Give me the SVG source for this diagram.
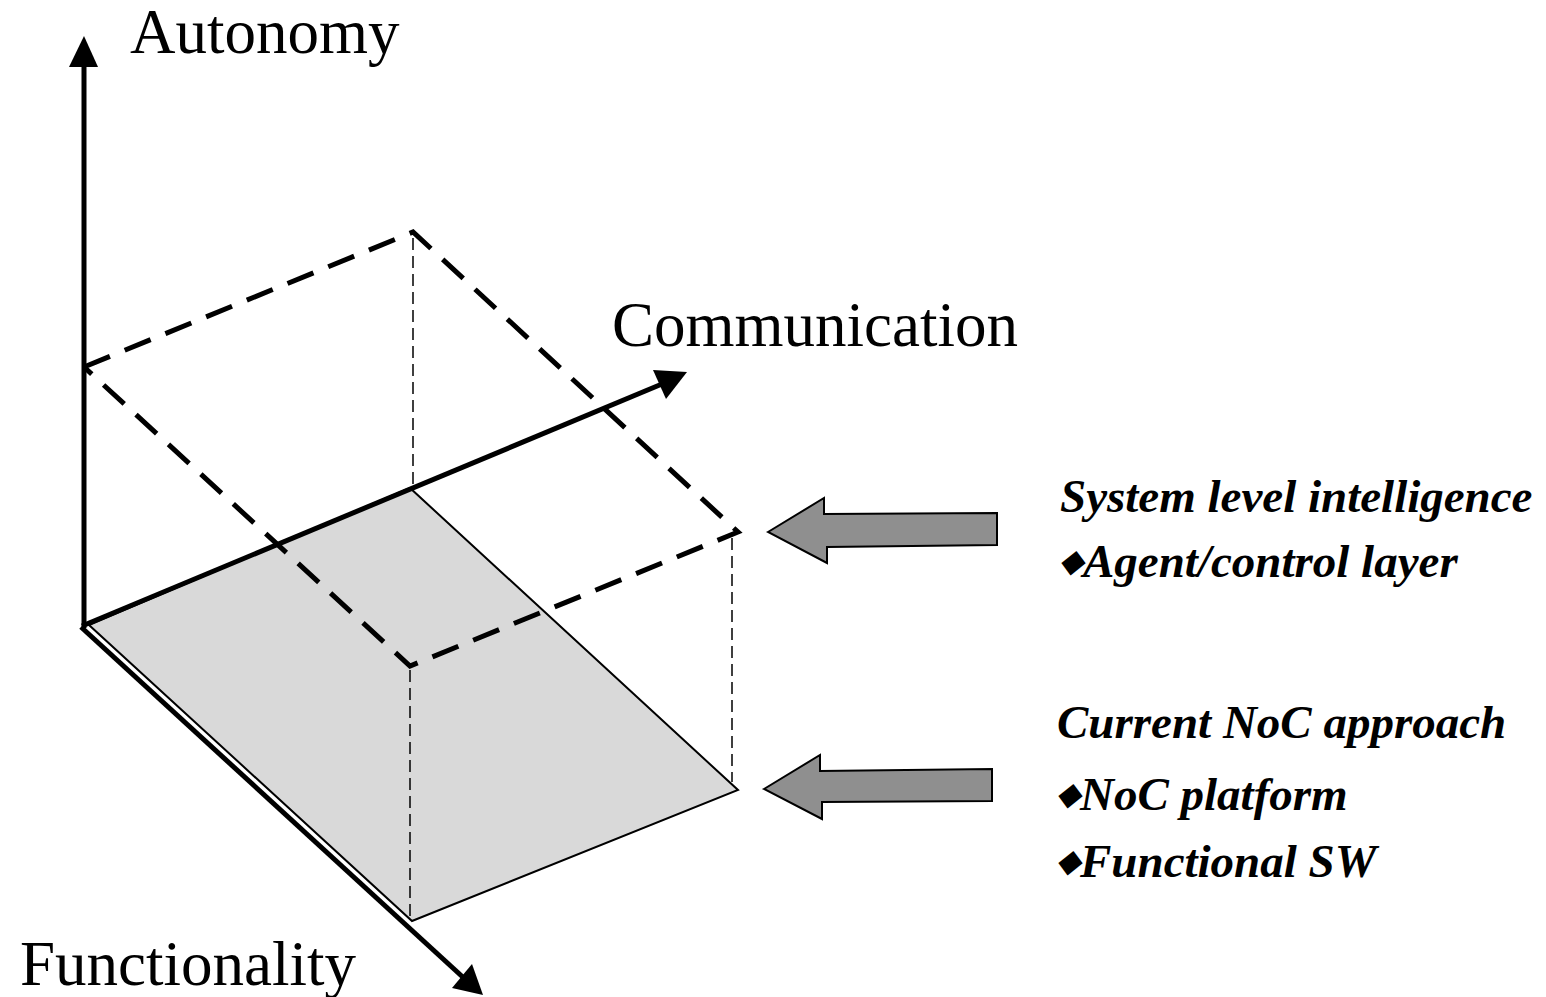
<svg xmlns="http://www.w3.org/2000/svg" width="1546" height="997" viewBox="0 0 1546 997">
<style>
.axis{stroke:#000;stroke-width:5;fill:none}
.dash{stroke:#000;stroke-width:5;fill:none;stroke-dasharray:28 16}
.thin{stroke:#000;stroke-width:1.5;fill:none;stroke-dasharray:12 6}
.lbl{font-family:"Liberation Serif","Times New Roman",serif;font-size:63px;fill:#000}
.side{font-family:"Liberation Serif","Times New Roman",serif;font-size:47px;font-weight:bold;font-style:italic;fill:#000}
.garrow{fill:#8f8f8f;stroke:#000;stroke-width:2}
</style>
<rect width="1546" height="997" fill="#fff"/>
<g id="plane">
<polygon points="89,625 410,488 738,790 412,921" fill="#d9d9d9" stroke="#000" stroke-width="2"/>
</g>
<g id="connectors">
<line class="thin" x1="413" y1="238" x2="413" y2="488"/>
<line class="thin" x1="732" y1="538" x2="732" y2="782"/>
<line class="thin" x1="410" y1="670" x2="410" y2="920"/>
<polyline class="dash" points="84,367 413,232 738,532 410,666 84,367"/>
<line class="axis" x1="84" y1="628" x2="84" y2="62"/>
<polygon points="84,36 69,67 98,67" fill="#000"/>
<line class="axis" x1="82" y1="626" x2="662" y2="384"/>
<polygon points="687,372 653,370 666,399" fill="#000"/>
<line class="axis" x1="81" y1="627" x2="466" y2="980"/>
<polygon points="483,995 472,964 452,988" fill="#000"/>
</g>
<g id="axis-labels">
<text class="lbl" x="130" y="53">Autonomy</text>
<text class="lbl" x="612" y="346">Communication</text>
<text class="lbl" x="20" y="985">Functionality</text>
</g>
<g id="arrow-system">
<polygon class="garrow" points="768,532 824,498 824,514 997,513 997,545 827,547 827,563"/>
</g>
<g id="arrow-noc">
<polygon class="garrow" points="764,789 820,755 820,771 992,769 992,801 822,802 822,819"/>
</g>
<g id="text-system">
<text class="side" x="1060" y="512">System level intelligence</text>
<text class="side" x="1060" y="577"><tspan font-size="30" dy="-6">◆</tspan><tspan dy="6">Agent/control layer</tspan></text>
</g>
<g id="text-noc">
<text class="side" x="1057" y="738">Current NoC approach</text>
<text class="side" x="1057" y="810"><tspan font-size="30" dy="-6">◆</tspan><tspan dy="6">NoC platform</tspan></text>
<text class="side" x="1057" y="877"><tspan font-size="30" dy="-6">◆</tspan><tspan dy="6">Functional SW</tspan></text>
</g>
</svg>
